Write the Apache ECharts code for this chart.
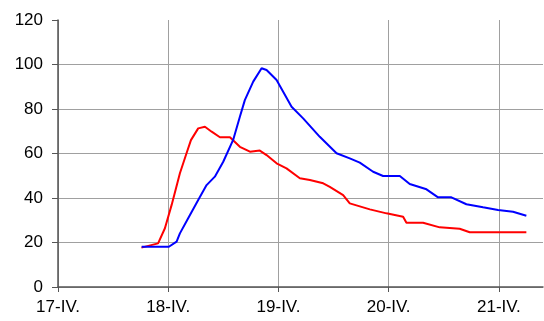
<!DOCTYPE html>
<html>
<head>
<meta charset="utf-8">
<script src="https://cdn.jsdelivr.net/npm/echarts@6/dist/echarts.min.js"></script>
<style>
html,body{margin:0;padding:0;background:#fff;}
#chart{width:544px;height:321px;}
</style>
</head>
<body>
<div id="chart"></div>
<script>
// x in days after 17-IV. 00:00
var xTickLabels = ['17-IV.', '18-IV.', '19-IV.', '20-IV.', '21-IV.'];
var yTickLabels = ['0', '20', '40', '60', '80', '100', '120'];

var blueX = [0.759,1.006,1.076,1.106,1.181,1.272,1.348,1.423,1.499,1.589,1.650,1.695,1.771,1.847,1.892,1.983,2.119,2.224,2.375,2.527,2.647,2.738,2.859,2.949,3.101,3.191,3.343,3.448,3.569,3.705,3.856,3.992,4.128,4.249];
var blueY = [18.1,18.1,20.4,24.1,30.9,39.1,45.8,49.6,56.3,66.1,76.5,84,92.3,98.3,97.5,93,81,75.8,67.5,60.1,57.8,55.9,51.8,49.9,49.9,46.3,43.9,40.3,40.3,37.2,35.8,34.6,33.8,32];

var redX = [0.757,0.908,0.970,1.031,1.106,1.166,1.206,1.272,1.333,1.394,1.469,1.560,1.650,1.741,1.831,1.892,1.983,2.073,2.194,2.285,2.406,2.466,2.587,2.647,2.829,2.980,3.131,3.161,3.312,3.463,3.644,3.735,4.249];
var redY = [17.7,19.6,26.4,36.9,51.1,60.1,66,71.3,72,69.8,67.3,67.3,63,60.8,61.3,59.3,55.6,53.3,48.9,48.1,46.6,45,41.3,37.6,34.9,33.1,31.6,28.9,28.9,26.8,26.2,24.6,24.6];

function pairs(xs, ys){ return xs.map(function(x,i){ return [x, ys[i]]; }); }

var chart = echarts.init(document.getElementById('chart'), null, {renderer:'canvas'});
var grid = '#a0a0a0';
chart.setOption({
  animation:false,
  backgroundColor:'#fff',
  grid:{left:58, top:20, right:1, bottom:34, containLabel:false},
  xAxis:{
    type:'value', min:0, max:4.4, interval:1,
    axisLine:{show:true, onZero:false, lineStyle:{color:'#555', width:1.5}},
    axisTick:{show:true, length:5, lineStyle:{color:'#555'}},
    axisLabel:{
      margin:12, color:'#000', fontSize:17, fontFamily:'Liberation Sans, Arial, sans-serif',
      showMaxLabel:false,
      formatter:function(v){ var i=Math.round(v); return Math.abs(v-i)<1e-6 && xTickLabels[i]!==undefined ? xTickLabels[i] : ''; }
    },
    splitLine:{show:true, lineStyle:{color:[grid,grid,grid,grid,grid,'rgba(0,0,0,0)'], width:1}}
  },
  yAxis:{
    type:'value', min:0, max:120, interval:20,
    axisLine:{show:true, lineStyle:{color:'#555', width:1.5}},
    axisTick:{show:true, length:6, lineStyle:{color:'#555'}},
    axisLabel:{
      margin:15, color:'#000', fontSize:17, fontFamily:'Liberation Sans, Arial, sans-serif',
      formatter:function(v){ var i=Math.round(v/20); return yTickLabels[i]; }
    },
    splitLine:{show:true, lineStyle:{color:[grid,grid,grid,grid,grid,grid,'rgba(0,0,0,0)'], width:1}}
  },
  series:[
    {type:'line', data:pairs(redX, redY), showSymbol:false, smooth:false,
     lineStyle:{color:'#ff0000', width:2}, itemStyle:{color:'#ff0000'}},
    {type:'line', data:pairs(blueX, blueY), showSymbol:false, smooth:false,
     lineStyle:{color:'#0000ff', width:2}, itemStyle:{color:'#0000ff'}}
  ]
});
</script>
</body>
</html>
